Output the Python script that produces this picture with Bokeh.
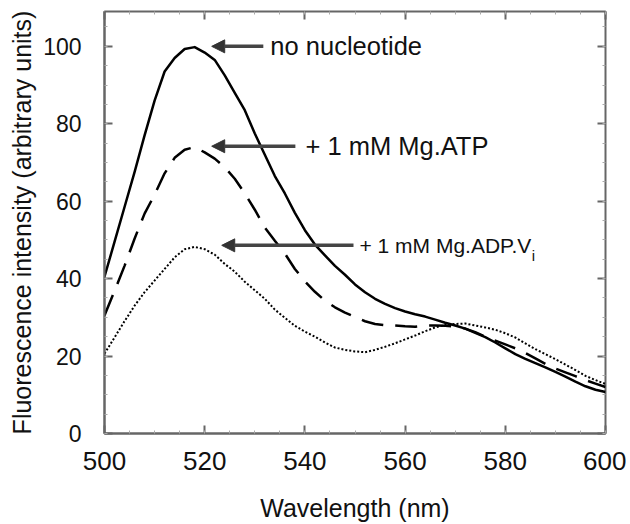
from bokeh.plotting import figure
from bokeh.models import (LinearAxis, Arrow, NormalHead, Label, FixedTicker, Range1d,
                          CustomLabelingPolicy)
from bokeh.embed import file_html
from bokeh.resources import INLINE

# ---- data ----
wavelength = list(range(500, 601, 2))

no_nucleotide = [40.5, 49.5, 58.5, 67.5, 77.0, 86.0, 93.5, 97.0, 99.3, 99.8,
                 98.4, 96.5, 92.5, 88.0, 83.5, 77.5, 72.0, 66.5, 62.0, 57.0,
                 52.5, 48.8, 46.0, 43.3, 41.0, 38.5, 36.5, 34.8, 33.5, 32.4,
                 31.5, 30.8, 30.2, 29.4, 28.6, 27.9, 27.1, 26.0, 24.9, 23.5,
                 22.0, 20.5, 19.3, 18.2, 17.1, 15.9, 14.7, 13.4, 12.2, 11.3, 10.7]

mg_atp = [30.5, 36.8, 43.3, 50.3, 56.8, 61.7, 67.2, 71.2, 73.3, 74.0,
          72.6, 71.0, 68.8, 65.8, 62.0, 57.8, 53.2, 49.8, 46.5, 42.5,
          39.3, 36.6, 34.3, 32.6, 31.2, 30.1, 29.0, 28.3, 28.0, 27.9,
          27.7, 27.6, 27.9, 27.9, 27.8, 27.6, 27.1, 26.2, 25.0, 24.0,
          23.0, 22.0, 20.8, 19.4, 18.0, 16.8, 15.8, 14.8, 13.8, 12.9, 12.0]

mg_adp_vi = [20.6, 24.8, 29.0, 33.0, 36.5, 39.5, 42.5, 45.5, 47.6, 48.2,
             47.6, 46.2, 43.8, 41.8, 39.2, 37.0, 34.8, 32.0, 29.9, 27.8,
             26.3, 25.0, 23.5, 22.2, 21.6, 21.2, 21.0, 21.6, 22.4, 23.3,
             24.3, 25.3, 26.4, 27.4, 28.0, 28.3, 28.4, 27.9, 27.4, 26.8,
             25.9, 24.8, 23.3, 21.8, 20.5, 19.2, 17.8, 16.4, 14.9, 13.8, 12.8]

x_ticks = [500, 520, 540, 560, 580, 600]
y_ticks = [0, 20, 40, 60, 80, 100]
x_minor = list(range(500, 601, 5))
y_minor = list(range(0, 111, 5))

# annotation labels: (text, arrow head x, arrow tail x, y, text x, size)
annotations = [
    ("no nucleotide", 521.4, 531.7, 100.0, 533.1, "25.5px"),
    ("+ 1 mM Mg.ATP", 521.4, 538.1, 74.2, 540.1, "25.5px"),
    ("+ 1 mM Mg.ADP.V", 523.4, 549.7, 48.6, 550.9, "21px"),
]

FONT = "Liberation Sans"
AX = "#666666"
INK = "#111111"

p = figure(frame_width=501, frame_height=422, output_backend="svg", toolbar_location=None,
           x_range=Range1d(500, 600), y_range=Range1d(0, 109),
           min_border_left=104, min_border_right=12, min_border_top=0,
           min_border_bottom=40)
p.background_fill_color = "white"
p.border_fill_color = "white"
p.grid.visible = False
p.outline_line_color = AX
p.outline_line_width = 2

for ax in (p.xaxis[0], p.yaxis[0]):
    ax.axis_line_color = AX
    ax.axis_line_width = 2
    ax.major_tick_in = 8
    ax.major_tick_out = 0
    ax.major_tick_line_color = AX
    ax.major_tick_line_width = 2
    ax.minor_tick_in = 3
    ax.minor_tick_out = 0
    ax.minor_tick_line_color = "#aaaaaa"
    ax.major_label_text_font = FONT
    ax.major_label_text_color = INK
    ax.axis_label_text_font = FONT
    ax.axis_label_text_font_size = "25px"
    ax.axis_label_text_font_style = "normal"
    ax.axis_label_text_color = INK

p.xaxis[0].ticker = FixedTicker(ticks=x_ticks, minor_ticks=x_minor)
p.yaxis[0].ticker = FixedTicker(ticks=y_ticks, minor_ticks=y_minor)
p.xaxis[0].major_label_text_font_size = "26px"
p.yaxis[0].major_label_text_font_size = "23px"
p.xaxis[0].axis_label = "Wavelength (nm)"
p.yaxis[0].axis_label = "Fluorescence intensity (arbitrary units)"
p.xaxis[0].major_label_standoff = 18
p.yaxis[0].major_label_standoff = 23
p.xaxis[0].axis_label_standoff = 21
p.yaxis[0].axis_label_standoff = 4

# mirrored inside ticks on top and right (no labels)
for loc, ticks, minors in (("above", x_ticks, x_minor), ("right", y_ticks, y_minor)):
    a = LinearAxis(ticker=FixedTicker(ticks=ticks, minor_ticks=minors),
                   major_label_policy=CustomLabelingPolicy(code="return []"))
    a.axis_line_color = None
    a.major_tick_in = 8
    a.major_tick_out = 0
    a.major_tick_line_color = AX
    a.major_tick_line_width = 2
    a.minor_tick_in = 3
    a.minor_tick_out = 0
    a.minor_tick_line_color = "#aaaaaa"
    a.major_label_standoff = 0
    p.add_layout(a, loc)

p.line(wavelength, no_nucleotide, line_color="black", line_width=2.5, line_join="round")
p.line(wavelength, mg_atp, line_color="black", line_width=2.5, line_dash="22 12")
p.line(wavelength, mg_adp_vi, line_color="black", line_width=2, line_dash="2 2")

for text, xh, xt, y, xtext, size in annotations:
    p.add_layout(Arrow(end=NormalHead(size=13, fill_color="#333333", line_color="#333333"),
                       x_start=xt, y_start=y, x_end=xh, y_end=y,
                       line_color="#444444", line_width=3.5))
    p.add_layout(Label(x=xtext, y=y, text=text, text_font=FONT, text_font_size=size,
                       text_baseline="middle", text_color=INK))

p.add_layout(Label(x=585.3, y=46.0, text="i", text_font=FONT,
                   text_font_size="15px", text_baseline="middle", text_color=INK))

open("out.html", "w").write(file_html(p, INLINE))
